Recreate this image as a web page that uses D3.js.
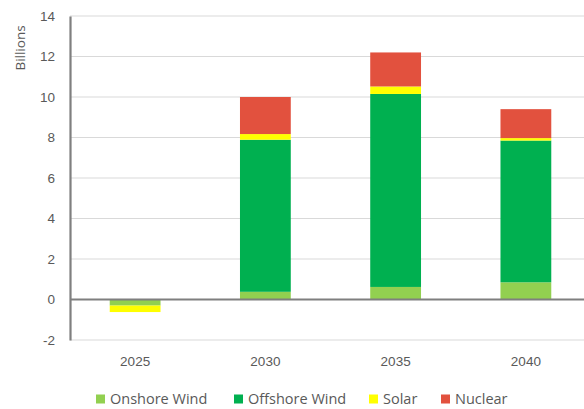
<!DOCTYPE html>
<html>
<head>
<meta charset="utf-8">
<script src="https://cdn.jsdelivr.net/npm/d3@7"></script>
<style>
  html, body { margin: 0; padding: 0; background: #fff; }
  svg { display: block; font-family: "Open Sans", "Liberation Sans", sans-serif; }
</style>
</head>
<body>
<svg id="chart" width="584" height="409"></svg>
<script>
// Investment by technology and year (billions)
const years = ["2025", "2030", "2035", "2040"];
const seriesNames = ["Onshore Wind", "Offshore Wind", "Solar", "Nuclear"];
const onshoreWind = [-0.3, 0.38, 0.62, 0.85];
const offshoreWind = [0, 7.51, 9.53, 7.0];
const solar = [-0.32, 0.28, 0.37, 0.12];
const nuclear = [0, 1.83, 1.68, 1.43];
const yTicks = [-2, 0, 2, 4, 6, 8, 10, 12, 14];
const colors = ["#92D050", "#00B050", "#FFFF00", "#E2513E"];

const seriesValues = [onshoreWind, offshoreWind, solar, nuclear];
const rows = years.map((yr, i) => {
  const r = { year: yr };
  seriesNames.forEach((s, k) => r[s] = seriesValues[k][i]);
  return r;
});

const svg = d3.select("#chart");
const plotLeft = 70, plotRight = 591, plotTop = 16, plotBottom = 340;

const x = d3.scaleBand().domain(years).range([plotLeft, plotRight]).paddingInner(0.61).paddingOuter(0.305);
const y = d3.scaleLinear().domain([-2, 14]).range([plotBottom, plotTop]);

// gridlines
svg.append("g")
  .selectAll("line").data(yTicks).join("line")
  .attr("x1", plotLeft).attr("x2", 584)
  .attr("y1", d => y(d)).attr("y2", d => y(d))
  .attr("stroke", "#d9d9d9").attr("stroke-width", 1);

// stacked bars with diverging offset (negatives stack below zero)
const stack = d3.stack().keys(seriesNames).offset(d3.stackOffsetDiverging);
const layers = stack(rows);

svg.append("g").selectAll("g").data(layers).join("g")
  .attr("fill", (d, i) => colors[i])
  .selectAll("rect").data(d => d).join("rect")
  .attr("x", d => x(d.data.year))
  .attr("width", x.bandwidth())
  .attr("y", d => y(Math.max(d[0], d[1])))
  .attr("height", d => Math.abs(y(d[0]) - y(d[1])));

// y axis
const yAxis = d3.axisLeft(y).tickValues(yTicks).tickSize(0).tickPadding(15).tickFormat(d => String(d));
const ga = svg.append("g").attr("transform", `translate(${plotLeft},0)`).call(yAxis);
ga.select(".domain").attr("stroke", "#7f7f7f").attr("stroke-width", 2.2);
ga.selectAll("text").attr("fill", "#595959").attr("font-size", 13.5);

// zero baseline
svg.append("line")
  .attr("x1", plotLeft).attr("x2", 584)
  .attr("y1", y(0)).attr("y2", y(0))
  .attr("stroke", "#7f7f7f").attr("stroke-width", 2);

// x axis labels, below the plot area
const xAxis = d3.axisBottom(x).tickSize(0).tickPadding(16);
const gx = svg.append("g").attr("transform", `translate(0,${plotBottom})`).call(xAxis);
gx.select(".domain").remove();
gx.selectAll("text").attr("fill", "#595959").attr("font-size", 13.5);

// y axis title
svg.append("text")
  .attr("transform", "translate(25,48) rotate(-90)")
  .attr("text-anchor", "middle")
  .attr("fill", "#595959").attr("font-size", 13.5)
  .text("Billions");

// legend
const legendX = [96, 234, 369, 441];
const lg = svg.append("g").selectAll("g").data(seriesNames).join("g")
  .attr("transform", (d, i) => `translate(${legendX[i]},399)`);
lg.append("rect").attr("x", 0).attr("y", -4.5).attr("width", 9).attr("height", 9)
  .attr("fill", (d, i) => colors[i]);
lg.append("text").attr("x", 14).attr("y", 0).attr("dy", "0.35em")
  .attr("fill", "#595959").attr("font-size", 14.5).text(d => d);
</script>
</body>
</html>
